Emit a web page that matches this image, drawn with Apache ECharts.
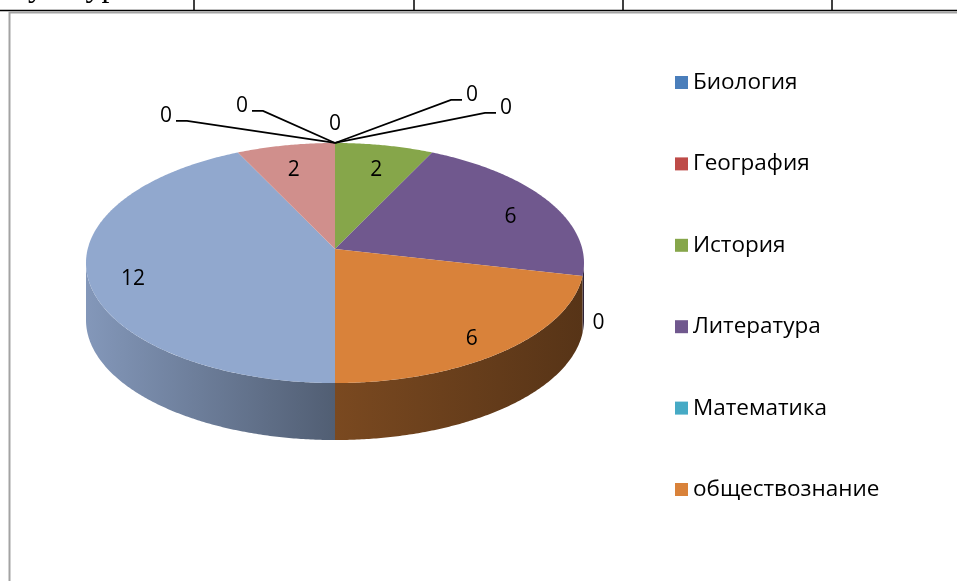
<!DOCTYPE html>
<html>
<head>
<meta charset="utf-8">
<script src="https://cdn.jsdelivr.net/npm/echarts@6/dist/echarts.min.js"></script>
<style>
  html, body { margin: 0; padding: 0; background: #ffffff; }
  #chart { width: 957px; height: 581px; }
</style>
</head>
<body>
<div id="chart"></div>
<script>
// Subjects in the order they go round the pie (clockwise from 12 o'clock)
const categories = [
  'Биология', 'География', 'История', 'Литература', 'Математика', 'обществознание',
  'Русский язык', 'Физика', 'Физическая культура', 'Химия', 'Экономика'
];
const values = [0, 0, 2, 6, 0, 6, 12, 2, 0, 0, 0];
// Only the first six subjects fit into the legend box
const legendCategories = categories.slice(0, 6);
const sliceColors = [
  '#4A7EBB', '#BE4B48', '#86A64A', '#70588E', '#46AAC5', '#D9823A',
  '#91A8CE', '#D08F8C', '#C3D69B', '#B3A2C7', '#93CDDD'
];

// Tilted-disc projection of the 3-D pie
const PIE = { cx: 335, cy: 249, a: 247.3, b: 118.4, k: 0.1167, depth: 57 };
const FONT = '"Open Sans", "Noto Sans", sans-serif';
const LABEL_SIZE = 21;
const LEGEND_SIZE = 22.5;

// Labels of empty slices are pushed out of the way, relative to their rim point
const zeroLabelOffsets = {
  'Биология': [137, -48],
  'География': [171, -35],
  'Математика': [16, 47],
  'Физическая культура': [-169, -27],
  'Химия': [-93, -37],
  'Экономика': [0, -19]
};

const total = values.reduce((s, v) => s + v, 0);
const startAngles = [];
values.reduce((acc, v) => { startAngles.push(acc); return acc + v / total * Math.PI * 2; }, 0);

// phi: clockwise from 12 o'clock; r: fraction of the radius
function project(phi, r) {
  const X = r * Math.sin(phi);
  const Zd = -r * Math.cos(phi);
  const w = 1 - PIE.k * Zd;
  return [PIE.cx + PIE.a * X / w, PIE.cy + PIE.b * Zd / w];
}

function rim(a0, a1, r) {
  const pts = [];
  const steps = Math.max(2, Math.ceil(Math.abs(a1 - a0) / (Math.PI / 360)));
  for (let s = 0; s <= steps; s++) pts.push(project(a0 + (a1 - a0) * s / steps, r));
  return pts;
}

function shade(hex, f) {
  const n = parseInt(hex.slice(1), 16);
  const r = Math.round(((n >> 16) & 255) * f);
  const g = Math.round(((n >> 8) & 255) * f);
  const b = Math.round((n & 255) * f);
  return 'rgb(' + r + ',' + g + ',' + b + ')';
}

function sliceSpan(i, v) {
  const a0 = startAngles[i];
  return [a0, a0 + v / total * Math.PI * 2];
}

// Visible part of the side wall lies between the left and right silhouette points
const WALL_FROM = Math.acos(-PIE.k);
const WALL_TO = Math.PI * 2 - WALL_FROM;

function renderWall(params, api) {
  const i = params.dataIndex;
  const v = api.value(0);
  const [a0, a1] = sliceSpan(i, v);
  const s = Math.max(a0, WALL_FROM);
  const e = Math.min(a1, WALL_TO);
  if (!(v > 0) || e <= s) return { type: 'group', children: [] };
  const top = rim(s, e, 1);
  const bottom = top.map(p => [p[0], p[1] + PIE.depth]).reverse();
  const base = sliceColors[i];
  return {
    type: 'polygon',
    shape: { points: top.concat(bottom) },
    style: {
      fill: new echarts.graphic.LinearGradient(PIE.cx - PIE.a, 0, PIE.cx + PIE.a, 0, [
        { offset: 0, color: shade(base, 0.9) },
        { offset: 0.5, color: shade(base, 0.56) },
        { offset: 1, color: shade(base, 0.40) }
      ], true)
    }
  };
}

function valueText(x, y, text) {
  return {
    type: 'text', x: x, y: y, z2: 100,
    style: {
      text: text, fill: '#000000', fontFamily: FONT, fontSize: LABEL_SIZE,
      align: 'center', verticalAlign: 'middle'
    }
  };
}

function renderTop(params, api) {
  const i = params.dataIndex;
  const v = api.value(0);
  const [a0, a1] = sliceSpan(i, v);
  const children = [];
  if (v > 0) {
    children.push({
      type: 'polygon',
      shape: { points: [project(0, 0)].concat(rim(a0, a1, 1)) },
      style: { fill: sliceColors[i] }
    });
    const c = project((a0 + a1) / 2, 0.82);
    children.push(valueText(c[0], c[1] + 8, String(v)));
  } else {
    const anchor = project(a0, 1);
    const off = zeroLabelOffsets[categories[i]] || [0, -20];
    const lx = anchor[0] + off[0];
    const ly = anchor[1] + off[1];
    if (Math.abs(off[0]) > 40) {
      const dir = Math.sign(off[0]);
      const endX = lx - dir * 10;
      const elbowX = endX - dir * 11;
      children.push({
        type: 'polyline', z2: 90,
        shape: { points: [anchor, [elbowX, ly + 5], [endX, ly + 5]] },
        style: { stroke: '#000000', lineWidth: 1.8, fill: null }
      });
    }
    children.push(valueText(lx, ly, String(v)));
  }
  return { type: 'group', children: children };
}

const chart = echarts.init(document.getElementById('chart'), null, { renderer: 'canvas' });

chart.setOption({
  animation: false,
  backgroundColor: '#ffffff',
  legend: {
    orient: 'vertical',
    left: 675,
    top: 71,
    padding: 0,
    icon: 'rect',
    itemWidth: 13,
    itemHeight: 13,
    itemGap: 58.4,
    selectedMode: false,
    data: legendCategories,
    textStyle: { fontFamily: FONT, fontSize: LEGEND_SIZE, color: '#000000', lineHeight: 20 }
  },
  graphic: [
    // cut-off row of the surrounding table
    {
      type: 'text', x: 13, y: -12,
      style: { text: 'культура', fill: '#000000', font: '32px "Liberation Serif", serif', verticalAlign: 'middle' }
    },
    { type: 'line', shape: { x1: 0, y1: 10.5, x2: 957, y2: 10.5 }, style: { stroke: '#000000', lineWidth: 1.5 } },
    { type: 'line', shape: { x1: 194, y1: 0, x2: 194, y2: 10 }, style: { stroke: '#000000', lineWidth: 1.5 } },
    { type: 'line', shape: { x1: 414, y1: 0, x2: 414, y2: 10 }, style: { stroke: '#000000', lineWidth: 1.5 } },
    { type: 'line', shape: { x1: 623, y1: 0, x2: 623, y2: 10 }, style: { stroke: '#000000', lineWidth: 1.5 } },
    { type: 'line', shape: { x1: 832, y1: 0, x2: 832, y2: 10 }, style: { stroke: '#000000', lineWidth: 1.5 } },
    // chart frame
    {
      type: 'polyline',
      shape: { points: [[9.5, 581], [9.5, 12.5], [957, 12.5]] },
      style: { stroke: '#a3a3a3', lineWidth: 2, fill: null }
    }
  ],
  series: [
    {
      // provides the legend entries and their colours
      type: 'pie',
      name: 'legend',
      radius: [0, 0],
      center: [PIE.cx, PIE.cy],
      silent: true,
      label: { show: false },
      labelLine: { show: false },
      data: categories.map((n, i) => ({ name: n, value: values[i], itemStyle: { color: sliceColors[i] } }))
    },
    {
      type: 'custom',
      name: 'walls',
      coordinateSystem: 'none',
      silent: true,
      z: 2,
      renderItem: renderWall,
      data: values
    },
    {
      type: 'custom',
      name: 'tops',
      coordinateSystem: 'none',
      silent: true,
      z: 3,
      renderItem: renderTop,
      data: values
    }
  ]
});
</script>
</body>
</html>
